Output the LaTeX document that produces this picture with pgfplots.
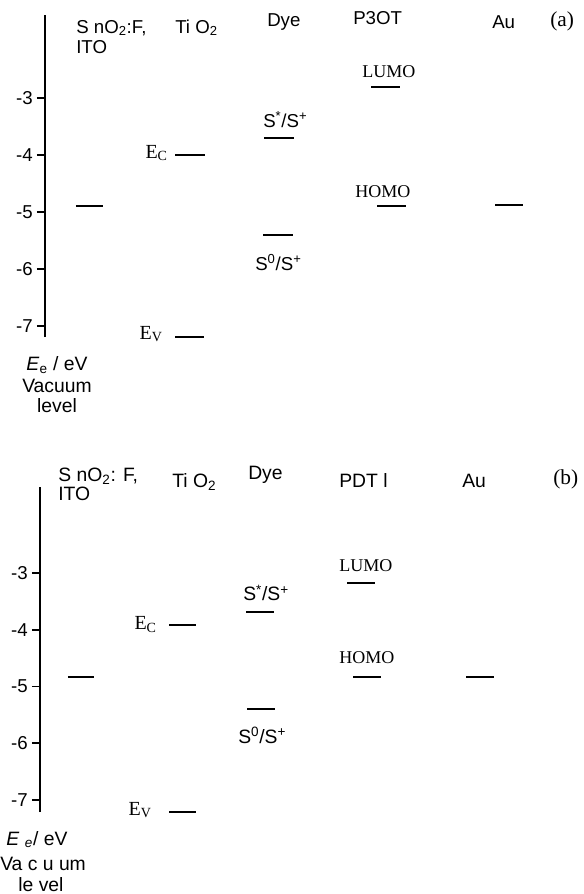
\documentclass[border=0pt]{standalone}
\usepackage{fontspec}
\setmainfont{Liberation Serif}
\newfontfamily\arial{Liberation Sans}
\usepackage{pgfplots}
\pgfplotsset{compat=1.18}
\pgfplotsset{
 levelsaxis/.style={scale only axis, clip=false, axis x line=none, axis y line*=left,
   ytick={-7,-6,-5,-4,-3}, yticklabels={-7,-6,-5,-4,-3},
   tick align=outside, major tick length=6pt,
   axis line style={line width=1.5pt, black},
   every tick/.style={line width=1.2pt, black},
   yticklabel style={font=\arial\fontsize{14}{16}\selectfont, inner xsep=3pt},
   anchor=south west},
}
\tikzset{
 lev/.style={black, line width=1.5pt},
 sf/.style={font=\arial\fontsize{14}{16}\selectfont, inner sep=0pt},
 sfb/.style={font=\arial\fontsize{14.5}{16}\selectfont, inner sep=0pt},
 tm/.style={font=\fontsize{13.5}{16}\selectfont, inner sep=0pt},
 te/.style={font=\fontsize{15}{17}\selectfont, inner sep=0pt},
 pl/.style={font=\fontsize{16}{18}\selectfont, inner sep=0pt},
}
\begin{document}
\begin{tikzpicture}
\useasboundingbox (0,0) rectangle (437.25pt,-670.5pt);
% ---------------- panel (a) ----------------
\begin{axis}[levelsaxis, at={(33.75pt,-252.75pt)}, width=403.5pt, height=241.5pt,
  xmin=45, xmax=583, ymin=-7.193, ymax=-1.544]
\addplot[lev, no markers] coordinates {(76,-4.90) (103,-4.90)};  % SnO2:F, ITO
\addplot[lev, no markers] coordinates {(175,-4.00) (205,-4.00)}; % TiO2 Ec
\addplot[lev, no markers] coordinates {(175,-7.20) (204,-7.20)}; % TiO2 Ev
\addplot[lev, no markers] coordinates {(264,-3.70) (294,-3.70)}; % Dye S*/S+
\addplot[lev, no markers] coordinates {(263,-5.40) (293,-5.40)}; % Dye S0/S+
\addplot[lev, no markers] coordinates {(371,-2.80) (400,-2.80)}; % P3OT LUMO
\addplot[lev, no markers] coordinates {(377,-4.90) (406,-4.90)}; % P3OT HOMO
\addplot[lev, no markers] coordinates {(495,-4.88) (523,-4.88)}; % Au
\node[sf, anchor=base west] at (76,-1.860) {S nO\textsubscript{2}:F,};
\node[sf, anchor=base west] at (76,-2.211) {ITO};
\node[sf, anchor=base west] at (175,-1.860) {Ti O\textsubscript{2}};
\node[sf, anchor=base west] at (267,-1.754) {Dye};
\node[sf, anchor=base west] at (353,-1.719) {P3OT};
\node[sf, anchor=base west] at (492,-1.772) {Au};
\node[pl, anchor=base west] at (550,-1.737) {(a)};
\node[sf, anchor=base west] at (263,-3.509) {S\textsuperscript{*}/S\textsuperscript{+}};
\node[sf, anchor=base west] at (255,-6.018) {S\textsuperscript{0}/S\textsuperscript{+}};
\node[tm, anchor=base west] at (362,-2.649) {LUMO};
\node[tm, anchor=base west] at (355,-4.754) {HOMO};
\node[te, anchor=base east] at (168,-4.053) {E\textsubscript{C}};
\node[te, anchor=base east] at (163,-7.228) {E\textsubscript{V}};
\node[sfb, anchor=base] at (57,-7.789) {\textit{E}\textsubscript{e} / eV};
\node[sfb, anchor=base] at (57,-8.175) {Vacuum};
\node[sfb, anchor=base] at (57,-8.526) {level};
\end{axis}
% ---------------- panel (b) ----------------
\begin{axis}[levelsaxis, at={(30pt,-609pt)}, width=407.25pt, height=243.75pt,
  xmin=40, xmax=583, ymin=-7.211, ymax=-1.485]
\addplot[lev, no markers] coordinates {(68,-4.84) (94,-4.84)};   % SnO2:F, ITO
\addplot[lev, no markers] coordinates {(169,-3.92) (196,-3.92)}; % TiO2 Ec
\addplot[lev, no markers] coordinates {(169,-7.21) (196,-7.21)}; % TiO2 Ev
\addplot[lev, no markers] coordinates {(246,-3.69) (274,-3.69)}; % Dye S*/S+
\addplot[lev, no markers] coordinates {(247,-5.40) (275,-5.40)}; % Dye S0/S+
\addplot[lev, no markers] coordinates {(347,-3.18) (375,-3.18)}; % PDTI LUMO
\addplot[lev, no markers] coordinates {(353,-4.83) (381,-4.83)}; % PDTI HOMO
\addplot[lev, no markers] coordinates {(466,-4.83) (494,-4.83)}; % Au
\node[sfb, anchor=base west] at (58,-1.396) {S nO\textsubscript{2}: F,};
\node[sfb, anchor=base west] at (58,-1.714) {ITO};
\node[sfb, anchor=base west] at (172,-1.502) {Ti O\textsubscript{2}};
\node[sfb, anchor=base west] at (248,-1.344) {Dye};
\node[sfb, anchor=base west] at (339,-1.485) {PDT l};
\node[sfb, anchor=base west] at (462,-1.485) {Au};
\node[pl, anchor=base west] at (553,-1.449) {(b)};
\node[sfb, anchor=base west] at (243,-3.493) {S\textsuperscript{*}/S\textsuperscript{+}};
\node[sfb, anchor=base west] at (238,-5.996) {S\textsuperscript{0}/S\textsuperscript{+}};
\node[tm, anchor=base west] at (339,-2.982) {LUMO};
\node[tm, anchor=base west] at (339,-4.586) {HOMO};
\node[te, anchor=base east] at (157,-4.004) {E\textsubscript{C}};
\node[te, anchor=base east] at (152,-7.264) {E\textsubscript{V}};
\node[sfb, anchor=base] at (37,-7.793) {\textit{E} \textsubscript{\textit{e}}/ eV};
\node[sfb, anchor=base west] at (0,-8.233) {Va c u um};
\node[sfb, anchor=base] at (41,-8.604) {le vel};
\end{axis}
\end{tikzpicture}
\end{document}
